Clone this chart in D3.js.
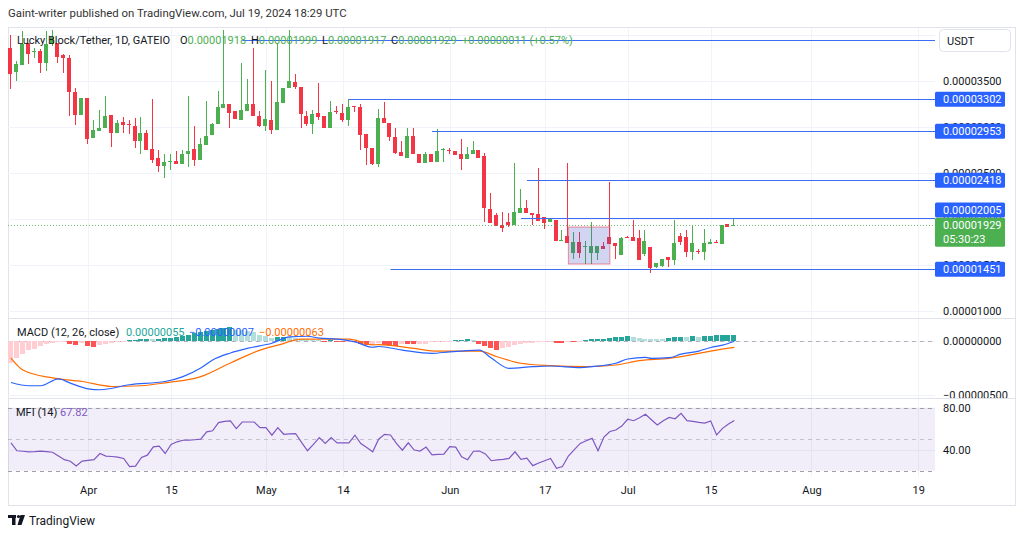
<!DOCTYPE html>
<html><head><meta charset="utf-8">
<script src="https://cdn.jsdelivr.net/npm/d3@7"></script>
<style>body{margin:0;background:#fff;} svg{display:block;font-family:Roboto,"Liberation Sans",sans-serif;}</style>
</head><body><svg id="c" width="1024" height="536"></svg>
<script>
// ---- data (prices in units of 1e-8 USDT) ----
const START = "2024-03-19";
const open = [3857,3597,3673,3911,3814,3825,3695,3900,3911,3781,
3749,3381,3132,3316,2883,2959,2991,3132,2937,3056,
3030,3013,2851,2937,2764,2667,2570,2613,2624,2591,
2710,2764,2645,2808,2916,3035,3208,3251,3175,3078,
3175,3251,3121,3013,3078,2970,3262,3424,3489,3435,
3121,3035,3153,3121,2991,3170,3153,3078,3225,3219,
2927,2775,2591,3099,3045,2894,2732,2667,2905,2710,
2602,2710,2613,2754,2748,2743,2700,2656,2710,2754,
2678,2104,2039,1931,1963,1931,2061,2115,2061,2050,
2017,1963,1985,1763,1812,1629,1747,1700,1629,1629,
1704,1801,1737,1607,1801,1801,1790,1617,1693,1477,
1488,1585,1552,1812,1801,1639,1650,1639,1726,1750,
1726,1942,1918];
const high = [4000,3716,4041,3911,3857,3846,4041,4060,3911,3792,
3781,3424,3316,3316,3078,3186,3338,3132,3078,3110,
3078,3099,3110,2970,3305,2754,2710,2710,2743,2754,
3338,3013,2883,3284,3045,3392,4060,3251,3175,3695,
3522,3857,3175,3619,3500,3911,3424,4060,3576,3435,
3175,3186,3478,3121,3284,3230,3251,3305,3230,3251,
2927,2775,3197,3273,3045,2991,2851,2991,2991,2710,
2732,2710,2980,2775,2775,2743,2873,2786,2851,2754,
2721,2278,2061,2072,2061,2602,2321,2202,2061,2548,
2017,1996,1985,1877,2602,1855,1855,1758,1963,1704,
1747,2396,1737,1801,1812,1985,1877,1877,1693,1520,
1563,1585,1985,1845,1877,1920,1672,1888,1780,1770,
1931,1942,1999];
const low = [3413,3500,3673,3684,3749,3587,3608,3880,3695,3587,
3121,3024,3132,2818,2883,2959,2991,2786,2937,2937,
2926,2775,2710,2754,2602,2505,2440,2526,2591,2591,
2559,2570,2645,2808,2916,3035,3208,2991,3089,3078,
3175,3121,3002,2959,2926,2970,3262,3424,3413,2991,
3013,2926,3078,2991,2991,3143,3056,3013,3160,2754,
2580,2580,2559,3045,2851,2710,2678,2667,2700,2602,
2602,2613,2613,2613,2710,2689,2526,2656,2710,2667,
1963,1952,1920,1855,1909,1931,2061,2061,1931,1974,
1887,1963,1758,1758,1737,1563,1574,1509,1509,1552,
1672,1726,1563,1607,1790,1758,1552,1596,1412,1466,
1477,1477,1498,1715,1585,1552,1617,1552,1726,1737,
1726,1909,1917];
const close = [3576,3684,3900,3792,3825,3695,3900,3980,3760,3749,
3381,3132,3316,2873,2970,2991,3121,2937,3045,3024,
3020,2851,2937,2754,2645,2570,2613,2624,2591,2710,
2743,2645,2818,2905,3035,3219,3251,3153,3089,3186,
3251,3121,3013,3089,2970,3273,3424,3500,3435,3143,
3035,3143,3110,2991,3164,3160,3078,3219,3215,2916,
2775,2591,3099,3045,2894,2721,2678,2905,2700,2602,
2710,2613,2743,2764,2738,2689,2656,2710,2754,2667,
2115,1952,1920,1898,1931,2072,2115,2061,2039,1974,
1952,1996,1758,1769,1737,1747,1629,1706,1704,1704,
1672,1726,1704,1790,1790,1758,1552,1758,1466,1520,
1563,1552,1737,1747,1639,1737,1644,1737,1747,1745,
1931,1909,1929];

// MACD (12,26) line and signal, read at selected days (day index from START), units 1e-8
const macdIdx = [0,3,5,8,10,13,15,20,26,29,32,34,37,40,44,47,50,52,55,58,61,62,66,71,74,76,79,81,84,88,91,96,98,102,104,107,108,111,113,116,118,120,122];
const macdVal = [-385,-415,-415,-352,-391,-443,-452,-406,-376,-331,-252,-179,-115,-70,-25,33,39,21,12,-13,-62,-55,-88,-118,-104,-97,-88,-161,-255,-240,-234,-249,-240,-209,-170,-155,-164,-158,-125,-97,-64,-43,-7];
const sigIdx = [0,2,7,12,17,22,26,32,37,42,45,49,57,61,62,68,72,79,82,86,91,97,102,106,111,116,118,122];
const sigVal = [-161,-270,-343,-376,-422,-415,-388,-331,-206,-88,-43,12,12,-40,-38,-73,-97,-97,-149,-209,-231,-240,-225,-185,-164,-118,-97,-63];
const hist = [-205,-160,-120,-90,-75,-55,-30,-20,-15,-10,
-35,-37,-20,-50,-60,-45,-35,-25,-15,-5,
5,8,10,12,10,15,20,25,30,45,
55,70,80,90,100,110,118,120,100,95,
90,80,55,40,25,30,35,30,20,12,
10,5,3,-5,2,-8,-10,-5,-15,-30,
-40,-38,-24,-39,-48,-50,-30,-32,-34,-33,
-30,-18,-9,-5,-1,1,5,10,4,-30,
-55,-70,-85,-70,-60,-40,-30,-25,-20,-14,
-12,-10,-20,-22,-10,-14,-8,5,10,12,
15,25,35,36,40,30,24,18,12,11,
10,25,30,36,33,40,36,40,42,50,
51,53,55];
const mfi = [46.5,39,38.5,38,38.2,38.6,38.2,37.6,34,30.5,
29,24.4,29.2,29.8,30.5,36.4,33.9,33.5,33,31.7,
23.8,24.4,32.6,34.8,42.7,43.4,36.4,45,47.5,49,
49.2,49.5,50,57,58,65.8,67,67.4,60.1,66.4,
66.4,66.4,61,61,53.8,61,54.7,55,55.4,47,
39,45,51.6,45.9,51.6,46.5,46.5,46.5,53.8,45.9,
42,38,50,54.6,54,46,39.5,46.6,39.7,38.7,
42.5,35,35.5,35.7,42.9,42.5,33.3,30.5,38.5,38.7,
36,29.5,30.3,30.8,31.7,38,30.8,32,24.8,27.4,
29.5,31.7,22.2,24,34,40,46,48.5,50.8,39,
52,57.3,58.8,62.5,69,67.6,70.5,73.7,68.5,63.5,
67.5,70.8,69.5,74.6,67.6,67,66,65.3,67.3,54,
60.3,64.5,67.82];

// drawn horizontal levels and box
const levelPrice = [3947,3302,2953,2418,2005,1451];
const levelStart = ["2024-04-27","2024-05-15","2024-05-29","2024-06-14","2024-06-13","2024-05-22"];
const labeledLevels = [3302,2953,2418,2005,1451];
const boxDates = ["2024-06-21","2024-06-28"];
const boxPrice = [1910,1507];
const lastPrice = 1929;

const priceTicks = [1000,1500,2000,2500,3000,3500,4000];
const macdTicks = [0,-500];
const mfiTicks = [40,80];
const xTickDates = ["2024-04-01","2024-04-15","2024-05-01","2024-05-14","2024-06-01","2024-06-17","2024-07-01","2024-07-15","2024-08-01","2024-08-19"];
const xTickLabels = ["Apr","15","May","14","Jun","17","Jul","15","Aug","19"];

// ---- layout ----
const svg = d3.select("#c");
const L = 8, R = 935, FR = 1015;
const P = {top:28, bottom:318}, M = {top:319, bottom:398}, F = {top:399, bottom:477};
const TXT = "#131722", GRID = "#f0f3fa", UP = "#4CAF50", DN = "#F23645", BLUE = "#2962FF";
const parse = d3.utcParse("%Y-%m-%d");
const dates = d3.utcDay.range(parse(START), d3.utcDay.offset(parse(START), open.length));
const x = d3.scaleUtc().domain([dates[0], dates[dates.length-1]]).range([11, 734.4]);
const yP = d3.scaleLinear().domain([1000,3500]).range([310.6, 81]);
const yM = d3.scaleLinear().domain([-500,0]).range([395, 340.5]);
const yF = d3.scaleLinear().domain([20,80]).range([470.7, 407.7]);
const fmt8 = v => (v < 0 ? "\u2212" : "") + (Math.abs(v)*1e-8).toFixed(8);

const defs = svg.append("defs");
[["cp",P],["cm",M],["cf",F]].forEach(([id,p]) => {
  defs.append("clipPath").attr("id",id).append("rect").attr("x",L).attr("y",p.top).attr("width",R-L).attr("height",p.bottom-p.top);
});
[["ap",P],["am",M],["af",F]].forEach(([id,p]) => {
  defs.append("clipPath").attr("id",id).append("rect").attr("x",R).attr("y",p.top).attr("width",FR-R).attr("height",p.bottom-p.top);
});

// header
svg.append("text").attr("x",8).attr("y",17).attr("font-size",11.4).attr("fill","#333").text("Gaint-writer published on TradingView.com, Jul 19, 2024 18:29 UTC");
// frame
svg.append("rect").attr("x",8.5).attr("y",27.5).attr("width",FR-8).attr("height",478).attr("fill","none").attr("stroke","#e0e3eb");
svg.append("line").attr("x1",L).attr("x2",FR).attr("y1",318.5).attr("y2",318.5).attr("stroke","#e0e3eb");
svg.append("line").attr("x1",L).attr("x2",FR).attr("y1",398.5).attr("y2",398.5).attr("stroke","#e0e3eb");

// vertical grid
const xt = xTickDates.map(parse);
[P,M,F].forEach(p => {
  svg.append("g").selectAll("line").data(xt).join("line")
    .attr("x1",d=>Math.round(x(d))+0.5).attr("x2",d=>Math.round(x(d))+0.5)
    .attr("y1",p.top).attr("y2",p.bottom).attr("stroke",GRID);
});

// ---- price pane ----
const gp = svg.append("g").attr("clip-path","url(#cp)");
gp.selectAll("line.hg").data(priceTicks).join("line").attr("class","hg")
  .attr("x1",L).attr("x2",R).attr("y1",d=>Math.round(yP(d))+0.5).attr("y2",d=>Math.round(yP(d))+0.5).attr("stroke",GRID);
const cg = gp.append("g").attr("shape-rendering","crispEdges");
dates.forEach((d,i) => {
  const cx = Math.round(x(d));
  const col = close[i] >= open[i] ? UP : DN;
  cg.append("rect").attr("x",cx-1).attr("width",1)
    .attr("y",yP(high[i])).attr("height",Math.max(1,yP(low[i])-yP(high[i]))).attr("fill",col);
  const t = yP(Math.max(open[i],close[i])), b = yP(Math.min(open[i],close[i]));
  cg.append("rect").attr("x",cx-3).attr("width",4).attr("y",t).attr("height",Math.max(1,b-t)).attr("fill",col);
});
// last price dotted line
gp.append("line").attr("x1",L).attr("x2",R).attr("y1",Math.round(yP(lastPrice))+0.5).attr("y2",Math.round(yP(lastPrice))+0.5)
  .attr("stroke",UP).attr("stroke-dasharray","1,2").attr("opacity",0.8);
// levels
levelPrice.forEach((p,i) => {
  gp.append("line").attr("x1",x(parse(levelStart[i]))).attr("x2",R)
    .attr("y1",Math.round(yP(p))+0.5).attr("y2",Math.round(yP(p))+0.5).attr("stroke","#3b6ef5").attr("stroke-width",1.2);
});
// box
gp.append("rect").attr("x",x(parse(boxDates[0]))).attr("y",yP(boxPrice[0]))
  .attr("width",x(parse(boxDates[1]))-x(parse(boxDates[0]))).attr("height",yP(boxPrice[1])-yP(boxPrice[0]))
  .attr("fill","rgba(63,81,200,0.24)").attr("stroke","rgba(242,54,69,0.55)");
// legend
const lg = svg.append("text").attr("y",44).attr("font-size",11).attr("fill",TXT);
lg.append("tspan").attr("x",17).text("Lucky Block/Tether, 1D, GATEIO");
[["O","0.00001918",180],["H","0.00001999",251],["L","0.00001917",322],["C","0.00001929",391]].forEach(([k,v,px]) => {
  lg.append("tspan").attr("x",px).text(k);
  lg.append("tspan").attr("fill",UP).text(v);
});
lg.append("tspan").attr("x",462).attr("fill",UP).text("+0.00000011 (+0.57%)");

// price axis
const ap = svg.append("g").attr("clip-path","url(#ap)");
ap.append("g").attr("transform",`translate(${R},0)`)
  .call(d3.axisRight(yP).tickValues(priceTicks).tickSize(0).tickPadding(8).tickFormat(fmt8))
  .call(g=>g.select(".domain").remove())
  .call(g=>g.selectAll("text").attr("font-size",11).attr("fill",TXT).attr("font-family","Roboto,sans-serif"));

function tag(yTop, h, lines, fill) {
  svg.append("rect").attr("x",R).attr("y",yTop).attr("width",70).attr("height",h).attr("rx",1.5).attr("fill",fill);
  lines.forEach((t,k) => svg.append("text").attr("x",R+8).attr("y",yTop+11.5+k*13.5).attr("font-size",11).attr("fill","#fff").text(t));
}
labeledLevels.forEach(p => {
  let c = yP(p);
  if (p === 2005) c = 210; // pushed up to clear the last-price tag
  tag(c-7.5, 15, [fmt8(p)], BLUE);
});
tag(yP(lastPrice)-7.5, 29, [fmt8(lastPrice), "05:30:23"], UP);
svg.append("rect").attr("x",939.5).attr("y",29.5).attr("width",71).attr("height",22).attr("rx",4).attr("fill","#fff").attr("stroke","#e0e3eb");
svg.append("text").attr("x",947).attr("y",44.5).attr("font-size",11).attr("fill",TXT).text("USDT");

// ---- MACD pane ----
const gm = svg.append("g").attr("clip-path","url(#cm)");
gm.selectAll("line.hg").data(macdTicks).join("line").attr("class","hg")
  .attr("x1",L).attr("x2",R).attr("y1",d=>Math.round(yM(d))+0.5).attr("y2",d=>Math.round(yM(d))+0.5).attr("stroke",GRID);
gm.append("line").attr("x1",L).attr("x2",R).attr("y1",Math.round(yM(0))+0.5).attr("y2",Math.round(yM(0))+0.5)
  .attr("stroke","#9598a1").attr("stroke-dasharray","4,4").attr("opacity",0.7);
const hg = gm.append("g").attr("shape-rendering","crispEdges");
hist.forEach((v,i) => {
  const prev = i > 0 ? hist[i-1] : v;
  const col = v >= 0 ? (v >= prev ? "#26A69A" : "#B2DFDB") : (v < prev ? "#FF5252" : "#FFCDD2");
  const cx = Math.round(x(dates[i]));
  const y0 = yM(0), y1 = yM(v);
  hg.append("rect").attr("x",cx-3).attr("width",5).attr("y",Math.min(y0,y1)).attr("height",Math.max(1,Math.abs(y1-y0))).attr("fill",col);
});
const lineM = d3.line().x(d=>x(dates[d[0]])).y(d=>yM(d[1])).curve(d3.curveMonotoneX);
gm.append("path").attr("d",lineM(sigIdx.map((d,k)=>[d,sigVal[k]]))).attr("fill","none").attr("stroke","#FF6D00").attr("stroke-width",1.2);
gm.append("path").attr("d",lineM(macdIdx.map((d,k)=>[d,macdVal[k]]))).attr("fill","none").attr("stroke",BLUE).attr("stroke-width",1.2);
const ml = svg.append("text").attr("y",336).attr("font-size",11).attr("fill",TXT);
ml.append("tspan").attr("x",17).text("MACD (12, 26, close)");
ml.append("tspan").attr("x",126).attr("fill","#26A69A").text("0.00000055");
ml.append("tspan").attr("x",189).attr("fill",BLUE).text("\u22120.00000007");
ml.append("tspan").attr("x",259).attr("fill","#FF6D00").text("\u22120.00000063");
const am = svg.append("g").attr("clip-path","url(#am)");
am.append("g").attr("transform",`translate(${R},0)`)
  .call(d3.axisRight(yM).tickValues(macdTicks).tickSize(0).tickPadding(8).tickFormat(fmt8))
  .call(g=>g.select(".domain").remove())
  .call(g=>g.selectAll("text").attr("font-size",11).attr("fill",TXT).attr("font-family","Roboto,sans-serif"));

// ---- MFI pane ----
const gf = svg.append("g").attr("clip-path","url(#cf)");
gf.append("rect").attr("x",L).attr("width",R-L).attr("y",yF(80)).attr("height",yF(20)-yF(80)).attr("fill","rgba(126,87,194,0.1)");
gf.selectAll("line.hg").data(mfiTicks).join("line").attr("class","hg")
  .attr("x1",L).attr("x2",R).attr("y1",d=>Math.round(yF(d))+0.5).attr("y2",d=>Math.round(yF(d))+0.5).attr("stroke","#e6e3f0");
[[80,0.9],[50,0.5],[20,0.9]].forEach(([v,o]) => {
  gf.append("line").attr("x1",L).attr("x2",R).attr("y1",Math.round(yF(v))+0.5).attr("y2",Math.round(yF(v))+0.5)
    .attr("stroke","#9598a1").attr("stroke-dasharray","4,4").attr("opacity",o);
});
gf.append("path").attr("d",d3.line().x((d,i)=>x(dates[i])).y(d=>yF(d))(mfi)).attr("fill","none").attr("stroke","#7E57C2").attr("stroke-width",1.2);
const fl = svg.append("text").attr("y",416).attr("font-size",11).attr("fill",TXT);
fl.append("tspan").attr("x",16).text("MFI (14)");
fl.append("tspan").attr("x",60).attr("fill","#7E57C2").text("67.82");
const af = svg.append("g").attr("clip-path","url(#af)");
af.append("g").attr("transform",`translate(${R},0)`)
  .call(d3.axisRight(yF).tickValues(mfiTicks).tickSize(0).tickPadding(8).tickFormat(d=>d.toFixed(2)))
  .call(g=>g.select(".domain").remove())
  .call(g=>g.selectAll("text").attr("font-size",11).attr("fill",TXT).attr("font-family","Roboto,sans-serif"));

// ---- time axis ----
svg.append("g").attr("transform","translate(0,483)")
  .call(d3.axisBottom(x).tickValues(xt).tickSize(0).tickPadding(3).tickFormat((d,i)=>xTickLabels[i]))
  .call(g=>g.select(".domain").remove())
  .call(g=>g.selectAll("text").attr("font-size",11).attr("fill",TXT).attr("font-family","Roboto,sans-serif"));

// ---- footer logo ----
const logo = svg.append("g").attr("fill","#131722");
logo.append("rect").attr("x",8).attr("y",515).attr("width",8).attr("height",3);
logo.append("rect").attr("x",12).attr("y",515).attr("width",3.5).attr("height",10);
logo.append("circle").attr("cx",18.5).attr("cy",516.5).attr("r",1.6);
logo.append("path").attr("d","M20.5 515 L25 515 L21.5 525 L17.5 525 Z");
svg.append("text").attr("x",29).attr("y",525).attr("font-size",12).attr("fill","#131722").text("TradingView");
</script></body></html>
